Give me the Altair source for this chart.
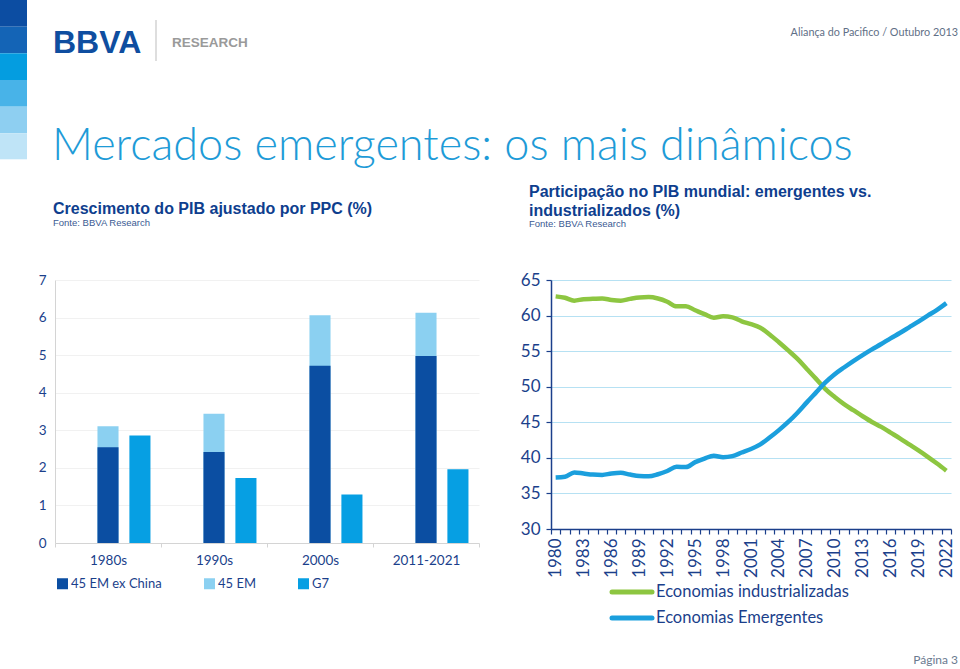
import altair as alt
import pandas as pd

# ---------------- data ----------------
periods = ["1980s", "1990s", "2000s", "2011-2021"]
em45_ex_china = [2.55, 2.42, 4.72, 4.98]
em45 = [3.11, 3.44, 6.06, 6.13]
g7 = [2.86, 1.73, 1.29, 1.96]
bar_series = ["45 EM ex China", "45 EM", "G7"]

years = list(range(1980, 2023))
industrializadas = [62.7, 62.5, 62.1, 62.3, 62.35, 62.4, 62.2, 62.1, 62.35, 62.55,
                    62.6, 62.4, 61.95, 61.3, 61.3, 60.75, 60.2, 59.7, 59.9, 59.75,
                    59.2, 58.8, 58.3, 57.35, 56.25, 55.1, 53.9, 52.5, 51.1, 49.65,
                    48.55, 47.55, 46.7, 45.85, 45.05, 44.35, 43.55, 42.75, 41.9, 41.05,
                    40.15, 39.2, 38.2]
emergentes = [37.25, 37.35, 37.95, 37.8, 37.65, 37.6, 37.8, 37.9, 37.65, 37.45,
              37.4, 37.7, 38.15, 38.75, 38.7, 39.4, 39.9, 40.3, 40.1, 40.25,
              40.75, 41.25, 41.9, 42.85, 43.9, 45.05, 46.35, 47.8, 49.2, 50.6,
              51.75, 52.7, 53.6, 54.45, 55.25, 56.0, 56.8, 57.55, 58.35, 59.15,
              60.0, 60.8, 61.75]
line_series = ["Economias industrializadas", "Economias Emergentes"]

# ---------------- styles ----------------
NAVY = "#1b3f8b"
DARK = "#0b4ea2"
LIGHT = "#8bd0f1"
G7C = "#069fe3"
GREEN = "#8dc641"
BLUE = "#1b9fdd"
FONT = "Lato"
HFONT = "Liberation Sans"

df_bar = pd.DataFrame({
    "periodo": periods * 3,
    "serie": ["45 EM"] * 4 + ["45 EM ex China"] * 4 + ["G7"] * 4,
    "valor": em45 + em45_ex_china + g7,
    "grupo": ["EM"] * 8 + ["G7"] * 4,
    "ordem": [0] * 4 + [1] * 4 + [2] * 4,
})

rows = []
for s, vals in zip(line_series, [industrializadas, emergentes]):
    for y, v in zip(years, vals):
        rows.append({"ano": y, "valor": v, "serie": s})
df_line = pd.DataFrame(rows)

one = pd.DataFrame({"k": [0]})

# panel origins on the page (plot area top-left)
LX0, LY0 = 55, 280
RX0, RY0 = 551, 280


def txt(x, y, s, size, color, ox, oy, weight="normal", font=FONT, align="left", baseline="alphabetic"):
    return alt.Chart(one).mark_text(
        text=s, align=align, baseline=baseline, fontSize=size, font=font,
        fontWeight=weight, color=color
    ).encode(x=alt.value(x - ox), y=alt.value(y - oy))


def rect(x0, x1, y0, y1, color, ox, oy):
    return alt.Chart(one).mark_rect(color=color).encode(
        x=alt.value(x0 - ox), x2=alt.value(x1 - ox),
        y=alt.value(y0 - oy), y2=alt.value(y1 - oy))


# ---------------- left chart ----------------
bars = alt.Chart(df_bar).mark_bar().encode(
    x=alt.X("periodo:N", sort=periods, title=None,
            scale=alt.Scale(paddingInner=0, paddingOuter=0),
            axis=alt.Axis(labelAngle=0, labelFont=FONT, labelFontSize=13.5, labelColor=NAVY,
                          domainColor="#d4d4d4", tickColor="#d4d4d4", tickBand="extent",
                          tickSize=4, labelPadding=6)),
    xOffset=alt.XOffset("grupo:N", scale=alt.Scale(domain=["_", "EM", "G7"],
                                                   paddingInner=0.34, paddingOuter=0.33)),
    y=alt.Y("valor:Q", stack=None, title=None,
            scale=alt.Scale(domain=[0, 7], nice=False),
            axis=alt.Axis(values=list(range(8)), grid=True, gridColor="#f1f1f1",
                          domainColor="#d4d4d4", ticks=False, labelPadding=9,
                          labelFont=FONT, labelFontSize=13.5, labelColor=NAVY)),
    color=alt.Color("serie:N", scale=alt.Scale(domain=bar_series, range=[DARK, LIGHT, G7C]),
                    legend=alt.Legend(title=None, orient="none", legendX=1, legendY=297,
                                      direction="horizontal", symbolType="square",
                                      symbolSize=121, symbolStrokeWidth=0,
                                      labelFont=FONT, labelFontSize=13, labelColor=NAVY,
                                      columnPadding=41, labelOffset=2)),
    order=alt.Order("ordem:Q"),
)

square_cols = ["#0c4da2", "#1464b6", "#049de0", "#48b3e8", "#8ecff1", "#bfe4f7"]
square_edges = [0, 26.7, 53.3, 80, 106.7, 133.3, 159.3]
deco_left = [rect(0, 27, square_edges[i], square_edges[i + 1], square_cols[i], LX0, LY0)
             for i in range(6)]
deco_left += [
    txt(53, 53, "BBVA", 32, "#0f4ea0", LX0, LY0, weight="bold", font=HFONT),
    alt.Chart(one).mark_rule(color="#bdbdbd", strokeWidth=1).encode(
        x=alt.value(156 - LX0), y=alt.value(20 - LY0), y2=alt.value(61 - LY0)),
    txt(172, 47, "RESEARCH", 13.5, "#9a9a9a", LX0, LY0, weight="bold", font=HFONT),
    txt(52, 160, "Mercados emergentes: os mais dinâmicos", 45, "#1e9bd7", LX0, LY0, weight=300),
    txt(53, 214, "Crescimento do PIB ajustado por PPC (%)", 16, "#0e3e8e", LX0, LY0,
        weight="bold", font=HFONT),
    txt(53, 226, "Fonte: BBVA Research", 9.5, "#3b5a93", LX0, LY0, font=HFONT),
]

left = alt.layer(bars, *deco_left).properties(width=424, height=263)

# ---------------- right chart ----------------
lines = alt.Chart(df_line).mark_line(strokeWidth=4.5, interpolate="monotone").encode(
    x=alt.X("ano:O", title=None, bandPosition=0.5,
            scale=alt.Scale(type="band", paddingInner=0, paddingOuter=0),
            axis=alt.Axis(labelAngle=270, labelFont=FONT, labelFontSize=17, labelColor=NAVY,
                          domainColor=NAVY, domainWidth=1.5, tickColor=NAVY, tickWidth=1.2,
                          tickSize=5, tickBand="extent", labelPadding=4, labelOverlap=False,
                          labelExpr="datum.value % 3 == 0 ? datum.label : ''")),
    y=alt.Y("valor:Q", title=None, scale=alt.Scale(domain=[30, 65], nice=False),
            axis=alt.Axis(values=list(range(30, 66, 5)), grid=True, gridColor="#b6e1f3",
                          gridWidth=1.2, domainColor=NAVY, domainWidth=1.5, tickColor=NAVY,
                          tickWidth=1.2, tickSize=5, labelPadding=6,
                          labelFont=FONT, labelFontSize=17, labelColor=NAVY)),
    color=alt.Color("serie:N", scale=alt.Scale(domain=line_series, range=[GREEN, BLUE]),
                    legend=None),
)

deco_right = [
    txt(529, 197, "Participação no PIB mundial: emergentes vs.", 16, "#0e3e8e", RX0, RY0,
        weight="bold", font=HFONT),
    txt(529, 216, "industrializados (%)", 16, "#0e3e8e", RX0, RY0, weight="bold", font=HFONT),
    txt(529, 227, "Fonte: BBVA Research", 9.5, "#3b5a93", RX0, RY0, font=HFONT),
    txt(958, 36, "Aliança do Pacifico / Outubro 2013", 10.8, "#5f6f86", RX0, RY0, align="right"),
    txt(958, 664, "Página 3", 12, "#6a7a90", RX0, RY0, align="right"),
]
for i, (s, c) in enumerate(zip(line_series, [GREEN, BLUE])):
    yy = 592 + 26 * i
    deco_right.append(
        alt.Chart(one).mark_rule(color=c, strokeWidth=5, strokeCap="round").encode(
            x=alt.value(612 - RX0), x2=alt.value(652 - RX0), y=alt.value(yy - RY0)))
    deco_right.append(txt(656, yy, s, 16.5, NAVY, RX0, RY0, baseline="middle"))

right = alt.layer(lines, *deco_right).properties(width=400, height=249)

chart = alt.hconcat(left, right, spacing=72, bounds="flush").resolve_scale(
    color="independent"
).resolve_legend(color="independent").properties(
    padding=0, background="white"
).configure_view(stroke=None)

chart.save("out.html", embed_options={"renderer": "svg", "actions": False})
